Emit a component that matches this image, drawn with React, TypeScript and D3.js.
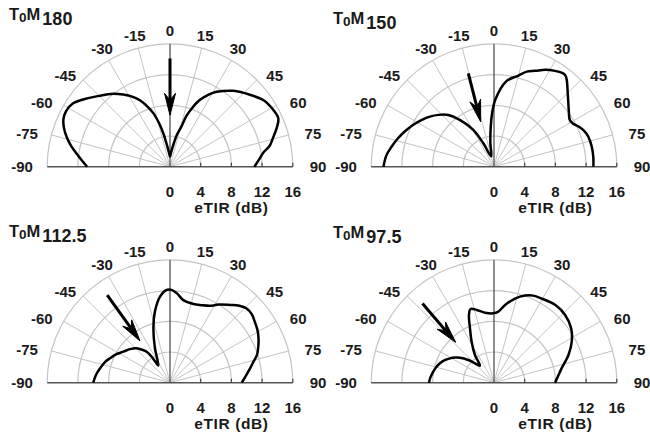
import React from "react";
import * as d3 from "d3";

// ---------- data ----------
const angleTicks = [-90, -75, -60, -45, -30, -15, 0, 15, 30, 45, 60, 75, 90];
const radialTickValues = [0, 4, 8, 12, 16];
const ringValues = [4, 8, 12, 16];
const axisTitle = "eTIR (dB)";
const panelSubscripts = ["180", "150", "112.5", "97.5"];

const tom180Angles = [-90, -86, -82, -78, -74, -70, -66, -62, -57, -50, -44, -39, -33, -28, -24, -20, -17, -14, -11, -8, -4, 0, 4, 8.7, 12, 16, 18, 21, 24, 28, 32, 40, 48, 55, 61, 66, 70, 74, 78, 81, 85, 90];
const tom180Values = [10.8, 11.5, 12.3, 13.2, 14.0, 14.7, 15.2, 15.35, 15.1, 13.9, 12.9, 12.2, 11.2, 10.3, 9.4, 8.2, 7.2, 5.8, 4.3, 2.8, 1.8, 1.3, 1.8, 2.9, 4.2, 5.5, 7.0, 8.3, 9.5, 10.6, 11.5, 12.9, 14.0, 15.0, 15.35, 15.45, 14.8, 14.0, 13.3, 12.4, 11.7, 11.0];

const tom150Angles = [-90, -84, -79, -74, -68.5, -63, -57, -52, -47, -41.5, -36, -29.4, -24.6, -15, -9, -4.7, -2, 1, 8, 15, 19, 23.3, 28, 32.5, 36, 38, 40, 44, 48, 53, 58.4, 61, 64.6, 68, 72.4, 78.4, 84.3, 90];
const tom150Values = [14.4, 14.1, 13.6, 13.1, 12.5, 11.9, 11.2, 10.6, 9.9, 9.0, 7.5, 5.5, 3.35, 1.4, 3.0, 5.2, 7.0, 8.7, 11.2, 12.3, 13.1, 13.6, 14.3, 14.8, 15.1, 15.1, 14.75, 13.8, 13.0, 12.2, 11.6, 11.7, 12.2, 12.6, 12.9, 13.0, 13.0, 12.95];

const tom112Angles = [-90, -84, -78.4, -72, -67.9, -62, -56.4, -50, -44.2, -40, -37, -35, -34.5, -27, -23.6, -17, -11.9, -6.6, -2.1, 1, 4.3, 9.2, 16.6, 22, 27.5, 32, 37.7, 42, 45.9, 50, 54.3, 59, 63.4, 68, 72.3, 76, 79.8, 85, 90];
const tom112Values = [10.0, 9.7, 9.3, 8.85, 8.45, 7.9, 7.3, 6.8, 6.25, 5.6, 5.06, 3.9, 2.7, 3.8, 4.9, 7.4, 9.5, 11.3, 12.1, 12.1, 11.7, 10.9, 10.7, 10.9, 11.3, 12.0, 12.8, 13.5, 13.9, 13.9, 13.6, 13.3, 12.9, 12.4, 11.9, 11.2, 10.6, 9.9, 9.35];

const tom97Angles = [-90, -85, -79.7, -75, -70.3, -65, -61.1, -57, -53.7, -48.6, -44.5, -39.5, -34.5, -28.6, -23.8, -20.3, -17.6, -13.4, -7.3, -0.6, 3.5, 8.1, 14, 19.6, 24.3, 29.5, 38.1, 46.4, 54.8, 62.2, 69.6, 78, 84, 90];
const tom97Values = [8.48, 8.3, 8.04, 7.8, 7.48, 7.0, 6.56, 6.0, 5.5, 4.47, 3.54, 2.87, 4.38, 6.09, 7.75, 9.41, 10.08, 9.74, 9.2, 9.04, 9.28, 10.23, 11.3, 12.05, 12.45, 12.6, 12.9, 12.8, 12.3, 11.45, 10.35, 9.0, 8.4, 7.96];

const arrowStartAngles = [0, -15.4, -35.6, -42.1];
const arrowStartValues = [14.1, 12.6, 14.05, 13.9];
const arrowEndAngles = [0, -16.5, -35.7, -43.5];
const arrowEndValues = [6.7, 6.1, 6.7, 7.25];

const seriesAngles = [tom180Angles, tom150Angles, tom112Angles, tom97Angles];
const seriesValues = [tom180Values, tom150Values, tom112Values, tom97Values];

// ---------- layout ----------
const W = 650;
const H = 437;
const RADIUS = 122.8;
const FONT = "'Liberation Sans', Arial, Helvetica, sans-serif";
const TITLE_Y = [-147, -143, -146, -145];

const rScale = d3.scaleLinear().domain([0, 16]).range([0, RADIUS]);
const toRad = (deg: number) => (deg * Math.PI) / 180;
const polar = (deg: number, v: number): [number, number] => {
  const r = rScale(v);
  return [r * Math.sin(toRad(deg)), -r * Math.cos(toRad(deg))];
};

// label placement: near the top labels sit on a circle, on the sides they are pushed outward
const labelPos = (a: number): [number, number] => {
  const s = Math.sin(toRad(a));
  const c = Math.cos(toRad(a));
  if (Math.abs(a) <= 30) return [136 * s, -136 * c];
  return [148 * s, -129 * c];
};

function Panel({ idx, cx, cy }: { idx: number; cx: number; cy: number }) {
  const angles = seriesAngles[idx];
  const values = seriesValues[idx];
  const pts: [number, number][] = angles.map((a, i) => [toRad(a), rScale(values[i])]);
  const line = d3.lineRadial<[number, number]>()
    .angle((d) => d[0])
    .radius((d) => d[1])
    .curve(d3.curveCatmullRom.alpha(0.5));
  const R = rScale(16);

  const [sx, sy] = polar(arrowStartAngles[idx], arrowStartValues[idx]);
  const [tx, ty] = polar(arrowEndAngles[idx], arrowEndValues[idx]);
  const len = Math.hypot(tx - sx, ty - sy);
  const ux = (tx - sx) / len;
  const uy = (ty - sy) / len;
  const px = -uy;
  const py = ux;
  const headL = 22;
  const headW = 5.5;
  const notch = 15;
  const bx = tx - ux * headL;
  const by = ty - uy * headL;
  const nx = tx - ux * notch;
  const ny = ty - uy * notch;
  const head = `M${tx},${ty} L${bx + px * headW},${by + py * headW} L${nx},${ny} L${bx - px * headW},${by - py * headW} Z`;

  return (
    <g transform={`translate(${cx},${cy})`}>
      {ringValues.map((v) => {
        const rr = rScale(v);
        return (
          <path key={"ring" + v} d={`M${-rr},0 A${rr},${rr} 0 0 1 ${rr},0`} fill="none" stroke="#c4c4c4" strokeWidth={1.2} />
        );
      })}
      {angleTicks.filter((a) => Math.abs(a) !== 90 && a !== 0).map((a) => {
        const [x, y] = polar(a, 16);
        return <line key={"sp" + a} x1={0} y1={0} x2={x} y2={y} stroke="#c4c4c4" strokeWidth={1} />;
      })}
      <line x1={-R} y1={0} x2={R} y2={0} stroke="#555" strokeWidth={1.6} />
      <line x1={0} y1={0} x2={0} y2={-R} stroke="#444" strokeWidth={1.2} />
      {radialTickValues.filter((v) => v > 0).map((v) => (
        <line key={"tk" + v} x1={rScale(v)} y1={0} x2={rScale(v)} y2={-4} stroke="#444" strokeWidth={1.2} />
      ))}
      {angleTicks.map((a) => {
        const [x, y] = labelPos(a);
        return (
          <text key={"al" + a} x={x} y={y} dy="0.36em" textAnchor="middle" fontFamily={FONT} fontWeight="bold" fontSize={15} fill="#1a1a1a">
            {a}
          </text>
        );
      })}
      {radialTickValues.map((v) => (
        <text key={"rl" + v} x={rScale(v)} y={30} textAnchor="middle" fontFamily={FONT} fontWeight="bold" fontSize={15} fill="#1a1a1a">
          {v}
        </text>
      ))}
      <text x={rScale(8)} y={46.5} textAnchor="middle" fontFamily={FONT} fontWeight="bold" fontSize={15.5} letterSpacing={0.6} fill="#1a1a1a">
        {axisTitle}
      </text>
      <path d={line(pts) || ""} fill="none" stroke="#000" strokeWidth={2.5} strokeLinejoin="round" />
      <line x1={sx} y1={sy} x2={nx} y2={ny} stroke="#000" strokeWidth={3} />
      <path d={head} fill="#000" stroke="#000" strokeWidth={1} strokeLinejoin="miter" />
      <text x={-161} y={TITLE_Y[idx]} fontFamily={FONT} fontWeight="bold" fill="#1a1a1a">
        <tspan fontSize={16.5}>T</tspan>
        <tspan fontSize={13.5} dy={2}>0</tspan>
        <tspan fontSize={16.5} dy={-2}>M</tspan>
        <tspan fontSize={18} dy={5.5} dx={2}>{panelSubscripts[idx]}</tspan>
      </text>
    </g>
  );
}

export default function App() {
  const centers = [0, 1, 2, 3].map((i) => ({
    cx: 170 + (i % 2) * 324,
    cy: 166.7 + Math.floor(i / 2) * 216,
  }));
  return (
    <svg width={W} height={H} style={{ position: "absolute", left: 0, top: 0, background: "#fff" }}>
      <rect width={W} height={H} fill="#fff" />
      {centers.map((c, i) => (
        <Panel key={i} idx={i} cx={c.cx} cy={c.cy} />
      ))}
    </svg>
  );
}
